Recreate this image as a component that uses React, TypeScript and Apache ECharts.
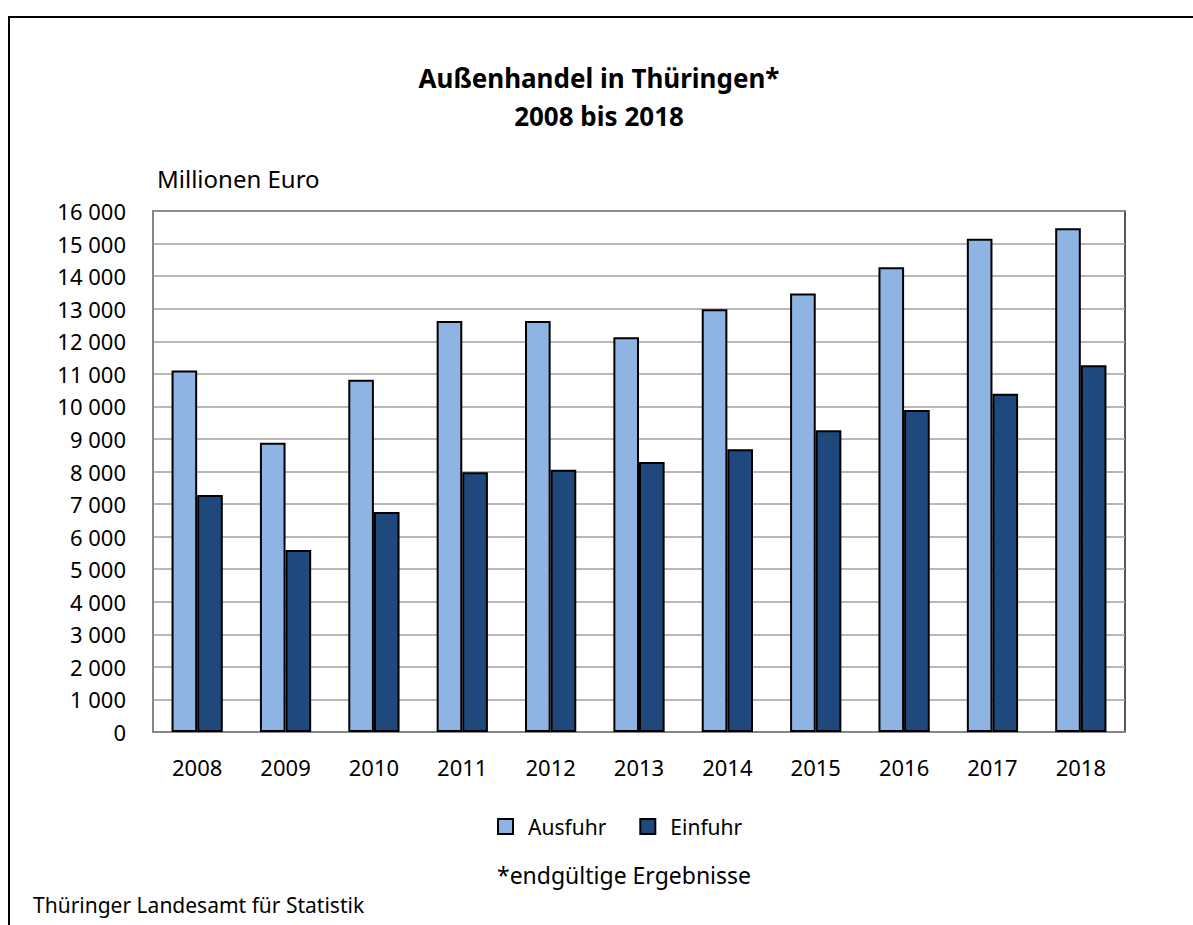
import React, { useEffect, useRef } from "react";
import * as echarts from "echarts";

const years = ["2008", "2009", "2010", "2011", "2012", "2013", "2014", "2015", "2016", "2017", "2018"];
const ausfuhr = [11100, 8880, 10820, 12620, 12620, 12120, 12980, 13470, 14270, 15150, 15470];
const einfuhr = [7280, 5590, 6760, 7980, 8050, 8290, 8680, 9270, 9890, 10390, 11260];
const seriesNames = ["Ausfuhr", "Einfuhr"];
const titleLines = ["Außenhandel in Thüringen*", "2008 bis 2018"];
const unitLabel = "Millionen Euro";
const footnote = "*endgültige Ergebnisse";
const source = "Thüringer Landesamt für Statistik";

const FONT = "'Noto Sans', Lato, sans-serif";

const fmt = (v: number) => {
  const s = String(Math.round(v));
  return s.replace(/\B(?=(\d{3})+(?!\d))/g, " ");
};

export default function App() {
  const ref = useRef<HTMLDivElement>(null);
  useEffect(() => {
    document.body.style.margin = "0";
    if (!ref.current) return;
    const chart = echarts.init(ref.current, undefined, { renderer: "svg" });
    chart.setOption({
      animation: false,
      backgroundColor: "#ffffff",
      textStyle: { fontFamily: FONT, color: "#000" },
      grid: {
        left: 153,
        top: 211,
        right: 68,
        bottom: 193,
        show: true,
        borderColor: "#222",
        borderWidth: 1.5,
        backgroundColor: "transparent",
      },
      legend: {
        data: seriesNames,
        left: 497,
        top: 816,
        icon: "rect",
        itemWidth: 15,
        itemHeight: 15,
        itemGap: 33,
        padding: 0,
        textStyle: { fontFamily: FONT, fontSize: 21, color: "#000", padding: [0, 0, 0, 10] },
      },
      xAxis: {
        type: "category",
        data: years,
        axisLine: { show: true, lineStyle: { color: "#868686", width: 2 } },
        axisTick: { show: false },
        axisLabel: { fontFamily: FONT, fontSize: 22, color: "#000", margin: 24 },
      },
      yAxis: {
        type: "value",
        min: 0,
        max: 16000,
        interval: 1000,
        axisLine: { show: true, lineStyle: { color: "#868686", width: 2 } },
        axisTick: { show: false },
        splitLine: { show: true, lineStyle: { color: "#a0a0a0", width: 1.5 } },
        axisLabel: {
          fontFamily: FONT,
          fontSize: 22,
          color: "#000",
          margin: 27,
          formatter: (v: number) => fmt(v),
        },
      },
      series: [
        {
          name: seriesNames[0],
          type: "bar",
          data: ausfuhr,
          barWidth: "29%",
          barGap: "0%",
          itemStyle: { color: "#8eb4e3", borderColor: "#000", borderWidth: 2 },
        },
        {
          name: seriesNames[1],
          type: "bar",
          data: einfuhr,
          barWidth: "29%",
          barGap: "0%",
          itemStyle: { color: "#1f497d", borderColor: "#000", borderWidth: 2 },
        },
      ],
      graphic: [
        { type: "line", shape: { x1: 9, y1: 17, x2: 9, y2: 925 }, style: { stroke: "#000", lineWidth: 2 } },
        { type: "line", shape: { x1: 8, y1: 17, x2: 1193, y2: 17 }, style: { stroke: "#000", lineWidth: 2 } },
        {
          type: "text",
          x: 599,
          y: 78,
          style: {
            text: titleLines[0],
            fontFamily: FONT,
            fontSize: 26,
            fontWeight: "bold",
            fill: "#000",
            textAlign: "center",
            textVerticalAlign: "middle",
          },
        },
        {
          type: "text",
          x: 599,
          y: 116,
          style: {
            text: titleLines[1],
            fontFamily: FONT,
            fontSize: 26,
            fontWeight: "bold",
            fill: "#000",
            textAlign: "center",
            textVerticalAlign: "middle",
          },
        },
        {
          type: "text",
          x: 157,
          y: 178,
          style: { text: unitLabel, fontFamily: FONT, fontSize: 24, fill: "#000", textAlign: "left", textVerticalAlign: "middle" },
        },
        {
          type: "text",
          x: 624,
          y: 875,
          style: { text: footnote, fontFamily: FONT, fontSize: 23, fill: "#000", textAlign: "center", textVerticalAlign: "middle" },
        },
        {
          type: "text",
          x: 33,
          y: 905,
          style: { text: source, fontFamily: FONT, fontSize: 21, fill: "#000", textAlign: "left", textVerticalAlign: "middle" },
        },
      ],
    });
    return () => chart.dispose();
  }, []);
  return <div ref={ref} style={{ width: 1193, height: 925 }} />;
}
